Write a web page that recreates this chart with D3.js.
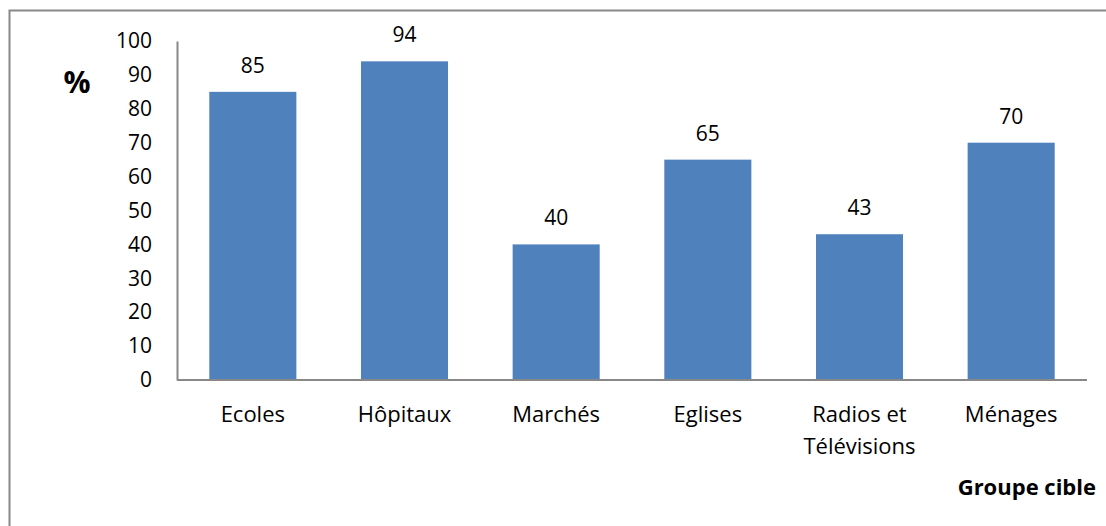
<!DOCTYPE html>
<html><head><meta charset="utf-8">
<script src="https://cdn.jsdelivr.net/npm/d3@7"></script>
<style>body{margin:0;background:#fff}svg{display:block}text{font-family:"Open Sans",sans-serif}</style>
</head><body><svg id="c" width="1106" height="526"></svg>
<script>
const categories = [["Ecoles"],["Hôpitaux"],["Marchés"],["Eglises"],["Radios et","Télévisions"],["Ménages"]];
const values = [85,94,40,65,43,70];
const yTicks = [0,10,20,30,40,50,60,70,80,90,100];
const yLabel = "%";
const xLabel = "Groupe cible";

const svg = d3.select("#c");
svg.append("rect").attr("x",9.5).attr("y",10.5).attr("width",1200).attr("height",600)
  .attr("fill","none").attr("stroke","#888").attr("stroke-width",2);

const x = d3.scaleBand().domain(d3.range(categories.length)).range([177,1087]).paddingInner(0.426).paddingOuter(0.213);
const y = d3.scaleLinear().domain([0,100]).range([380,41]);

svg.selectAll("rect.bar").data(values).join("rect").attr("class","bar")
  .attr("x",(d,i)=>x(i)).attr("width",x.bandwidth())
  .attr("y",d=>y(d)).attr("height",d=>y(0)-y(d)).attr("fill","#4f81bd");

const yAxis = svg.append("g").attr("transform","translate(177,0)")
  .call(d3.axisLeft(y).tickValues(yTicks).tickSize(0).tickPadding(25));
yAxis.select(".domain").attr("stroke","#888").attr("stroke-width",2);
yAxis.selectAll("text").attr("font-size",21).attr("fill","#000").attr("font-family","'Open Sans',sans-serif");

const xAxis = svg.append("g").attr("transform","translate(0,380)")
  .call(d3.axisBottom(x).tickSize(0).tickFormat(""));
xAxis.select(".domain").attr("stroke","#888").attr("stroke-width",2).attr("d","M177,0H1087");

svg.selectAll("text.cat").data(categories).join("text").attr("class","cat")
  .attr("text-anchor","middle").attr("font-size",22)
  .attr("x",(d,i)=>x(i)+x.bandwidth()/2).attr("y",422)
  .each(function(d){
    d3.select(this).selectAll("tspan").data(d).join("tspan")
      .attr("x",d3.select(this).attr("x")).attr("dy",(t,j)=>j?32:0).text(t=>t);
  });

svg.selectAll("text.val").data(values).join("text").attr("class","val")
  .attr("text-anchor","middle").attr("font-size",21)
  .attr("x",(d,i)=>x(i)+x.bandwidth()/2).attr("y",d=>y(d)-19).text(d=>d);

svg.append("text").attr("x",77).attr("y",93).attr("text-anchor","middle")
  .attr("font-size",30).attr("font-weight","bold").text(yLabel);
svg.append("text").attr("x",1096).attr("y",495).attr("text-anchor","end")
  .attr("font-size",22).attr("font-weight","bold").text(xLabel);
</script></body></html>
